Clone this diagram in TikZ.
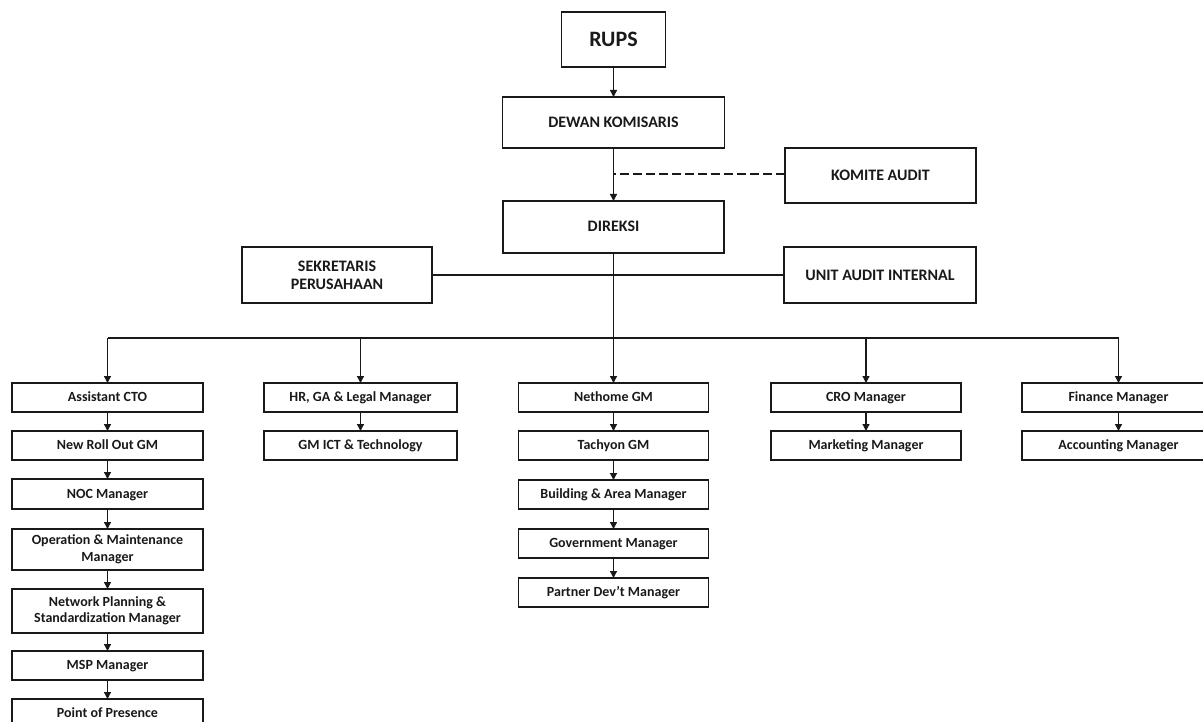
\documentclass[tikz,border=0pt]{standalone}
\usepackage{fontspec}
\setmainfont{Carlito}
\usetikzlibrary{arrows.meta}
\begin{document}
\begin{tikzpicture}[x=1pt,y=-1pt,
  every node/.style={inner sep=0pt, outer sep=0pt},
  box/.style={draw=black!90, line width=1.4pt, align=center, font=\bfseries\fontsize{14}{16.5}\selectfont, text=black!90, minimum width=191pt, minimum height=29pt, text height=10.5pt, text depth=2pt},
  head/.style={box, font=\bfseries\fontsize{16}{18}\selectfont, minimum height=56pt, text height=11.5pt, text depth=1.5pt},
  multi/.style={text height=, text depth=},
  arr/.style={line width=1.3pt, draw=black!90, -{Triangle[width=7pt,length=7pt]}},
  ln/.style={line width=1.3pt, draw=black!90}]
\path[use as bounding box] (0,0) rectangle (1203,722);
\clip (0,0) rectangle (1203,722);
% top
\node[box, font=\bfseries\fontsize{22}{24}\selectfont, minimum width=104pt, minimum height=55pt, text height=16pt, text depth=2pt] (rups) at (613.5,39.5) {RUPS};
\node[head, minimum width=222pt, minimum height=51pt] (dewan) at (613.5,122.5) {DEWAN KOMISARIS};
\node[head, minimum width=191pt, minimum height=55pt] (komite) at (880.5,175.5) {KOMITE AUDIT};
\node[head, minimum width=221pt, minimum height=52pt] (direksi) at (613.5,227) {DIREKSI};
\node[head, multi, minimum width=190pt, minimum height=56pt] (sek) at (337,275) {SEKRETARIS\\PERUSAHAAN};
\node[head, minimum width=192pt, minimum height=56pt] (unit) at (880,275) {UNIT AUDIT INTERNAL};
\coordinate (bus) at (613.5,338);
% column 1
\node[box] (asst) at (107.5,397.5) {Assistant CTO};
\node[box] (nro) at (107.5,445.5) {New Roll Out GM};
\node[box, minimum height=30pt] (noc) at (107.5,494) {NOC Manager};
\node[box, multi, minimum height=41pt] (om) at (107.5,549.5) {Operation \& Maintenance\\Manager};
\node[box, multi, minimum height=44pt] (np) at (107.5,611) {Network Planning \&\\Standardization Manager};
\node[box] (msp) at (107.5,665.5) {MSP Manager};
\node[box] (pop) at (107.5,713.5) {Point of Presence};
% column 2
\node[box, minimum width=193pt] (hr) at (360.5,397.5) {HR, GA \& Legal Manager};
\node[box, minimum width=193pt] (ict) at (360.5,445.5) {GM ICT \& Technology};
% column 3
\node[box, minimum width=190pt] (net) at (613.5,397.5) {Nethome GM};
\node[box, minimum width=190pt] (tach) at (613.5,445.5) {Tachyon GM};
\node[box, minimum width=190pt] (bld) at (613.5,494.5) {Building \& Area Manager};
\node[box, minimum width=190pt] (gov) at (613.5,543.5) {Government Manager};
\node[box, minimum width=190pt] (par) at (613.5,592.5) {Partner Dev't Manager};
% column 4
\node[box, minimum width=190pt] (cro) at (866,397.5) {CRO Manager};
\node[box, minimum width=190pt] (mkt) at (866,445.5) {Marketing Manager};
% column 5
\node[box, minimum width=193pt] (fin) at (1118.5,397.5) {Finance Manager};
\node[box, minimum width=193pt] (acc) at (1118.5,445.5) {Accounting Manager};
% connectors top
\draw[arr] (rups) -- (dewan);
\draw[arr] (dewan) -- (direksi);
\draw[ln, dashed, dash pattern=on 9pt off 4pt] (komite.west |- 0,174) -- (dewan.south |- 0,174);
\draw[ln] (sek.east) -- (unit.west);
\draw[arr] (direksi) -- (net);
\draw[ln] (bus -| asst) -- (bus -| fin);
\foreach \n in {asst,hr,cro,fin}{
  \draw[arr] (bus -| \n) -- (\n.north);
}
% chains
\draw[arr] (asst) -- (nro);
\draw[arr] (nro) -- (noc);
\draw[arr] (noc) -- (om);
\draw[arr] (om) -- (np);
\draw[arr] (np) -- (msp);
\draw[arr] (msp) -- (pop);
\draw[arr] (hr) -- (ict);
\draw[arr] (net) -- (tach);
\draw[arr] (tach) -- (bld);
\draw[arr] (bld) -- (gov);
\draw[arr] (gov) -- (par);
\draw[arr] (cro) -- (mkt);
\draw[arr] (fin) -- (acc);
\end{tikzpicture}
\end{document}
